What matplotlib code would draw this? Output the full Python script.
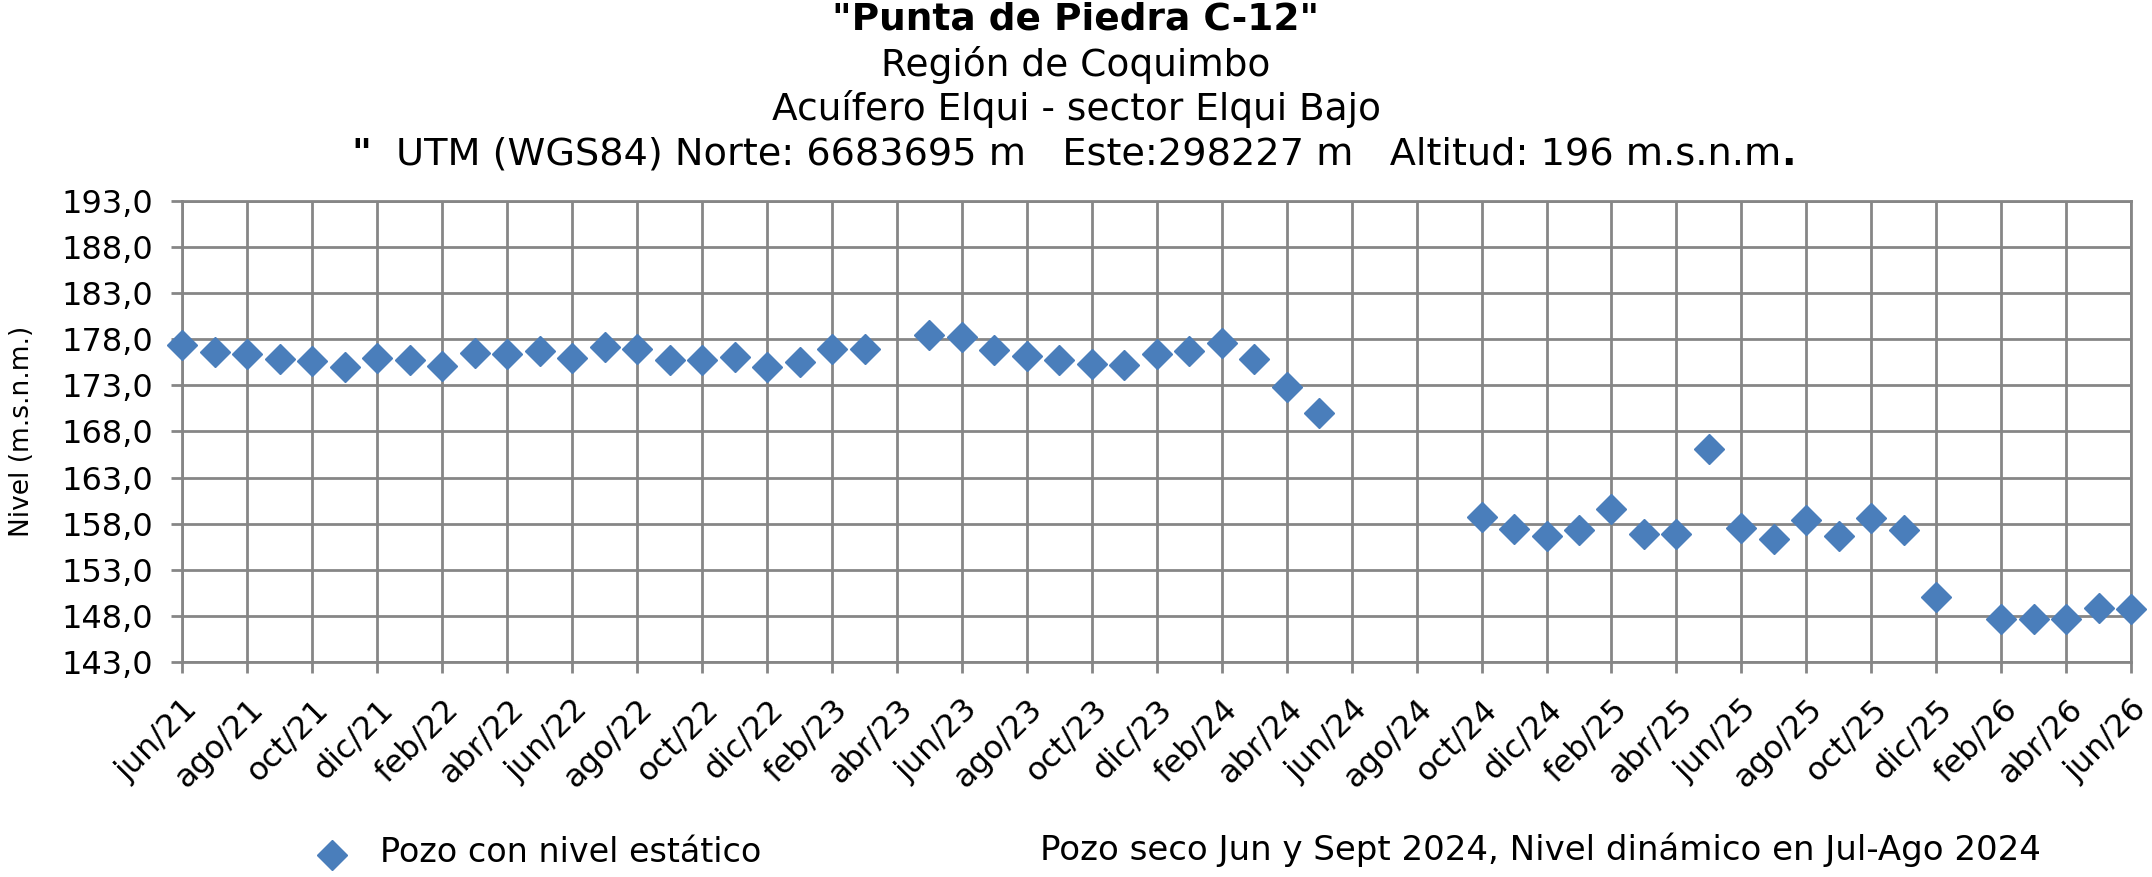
import matplotlib
matplotlib.use("Agg")
import matplotlib.pyplot as plt
import numpy as np

plt.rcParams['font.family'] = ['DejaVu Sans']

# meses desde jun/21 hasta jun/26 (indice 0..60)
mes_abr = ['ene', 'feb', 'mar', 'abr', 'may', 'jun',
           'jul', 'ago', 'sep', 'oct', 'nov', 'dic']
meses = [f"{mes_abr[(5 + i) % 12]}/{21 + (5 + i) // 12}" for i in range(61)]

# nivel estatico (m.s.n.m.), None = sin medicion
nivel = [177.35, 176.66, 176.4, 175.9, 175.6, 175.0, 175.95, 175.8, 175.05, 176.5,
         176.4, 176.7, 175.95, 177.2, 176.9, 175.7, 175.8, 176.05, 175.0, 175.5,
         176.95, 176.95, None, 178.5, 178.3, 176.8, 176.15, 175.8, 175.3, 175.2,
         176.4, 176.75, 177.55, 175.9, 172.8, 170.0, None, None, None, None,
         158.72, 157.46, 156.63, 157.35, 159.63, 156.92, 156.92, 166.08, 157.57, 156.37,
         158.43, 156.63, 158.58, 157.35, 150.1, None, 147.64, 147.67, 147.64, 148.9,
         148.72]

y_ticks = np.arange(143, 194, 5)
azul = '#4A7EBB'
gris = '#868686'

x = np.arange(len(meses))
y = np.array([np.nan if v is None else v for v in nivel])

fig = plt.figure(figsize=(21.52, 8.77), dpi=100)
ax = fig.add_axes([0.0848, 0.2452, 0.9055, 0.5256])

ax.plot(x, y, linestyle='none', marker='D', markersize=15.5, color=azul,
        clip_on=False, zorder=3)

ax.set_xlim(0, 60)
ax.set_ylim(143, 193)
ax.set_xticks(x[::2])
ax.set_xticklabels(meses[::2], rotation=45, ha='right', va='top',
                   rotation_mode='anchor')
ax.set_yticks(y_ticks)
ax.set_yticklabels([f"{v:.1f}".replace('.', ',') for v in y_ticks])
ax.tick_params(axis='both', labelsize=23, color=gris, width=2, length=8,
               direction='out')
ax.tick_params(axis='y', pad=13)
ax.tick_params(axis='x', pad=15)
ax.grid(True, color=gris, linewidth=2)
ax.set_axisbelow(True)
for s in ax.spines.values():
    s.set_color(gris)
    s.set_linewidth(2)

ax.set_ylabel('Nivel (m.s.n.m.)', fontsize=19)
ax.yaxis.set_label_coords(-0.0755, 0.5)

fig.text(0.5, 1 - 19.5 / 877, '"Punta de Piedra C-12"', ha='center', va='center',
         fontsize=27, fontweight='bold')
fig.text(0.5, 1 - 65 / 877, 'Región de Coquimbo', ha='center', va='center',
         fontsize=27)
fig.text(0.5, 1 - 109 / 877, 'Acuífero Elqui - sector Elqui Bajo', ha='center',
         va='center', fontsize=27)
fig.text(351 / 2152, 1 - 155 / 877, '"', ha='left', va='center',
         fontsize=27.5, fontweight='bold')
t2 = fig.text(396 / 2152, 1 - 155 / 877,
              'UTM (WGS84) Norte: 6683695 m   Este:298227 m   Altitud: 196 m.s.n.m',
              ha='left', va='center', fontsize=27.5)
ax.annotate('.', xy=(1, 0), xycoords=t2, ha='left', va='bottom',
            fontsize=27.5, fontweight='bold', annotation_clip=False)

# leyenda
fig.lines.append(plt.Line2D([332 / 2152], [1 - 855 / 877], transform=fig.transFigure,
                            marker='D', markersize=15.5, color=azul,
                            linestyle='none'))
fig.text(380 / 2152, 1 - 853 / 877, 'Pozo con nivel estático', ha='left',
         va='center', fontsize=24)
fig.text(1040 / 2152, 1 - 850 / 877,
         'Pozo seco Jun y Sept 2024, Nivel dinámico en Jul-Ago 2024',
         ha='left', va='center', fontsize=24.5)

fig.savefig('out.png', dpi=100)
